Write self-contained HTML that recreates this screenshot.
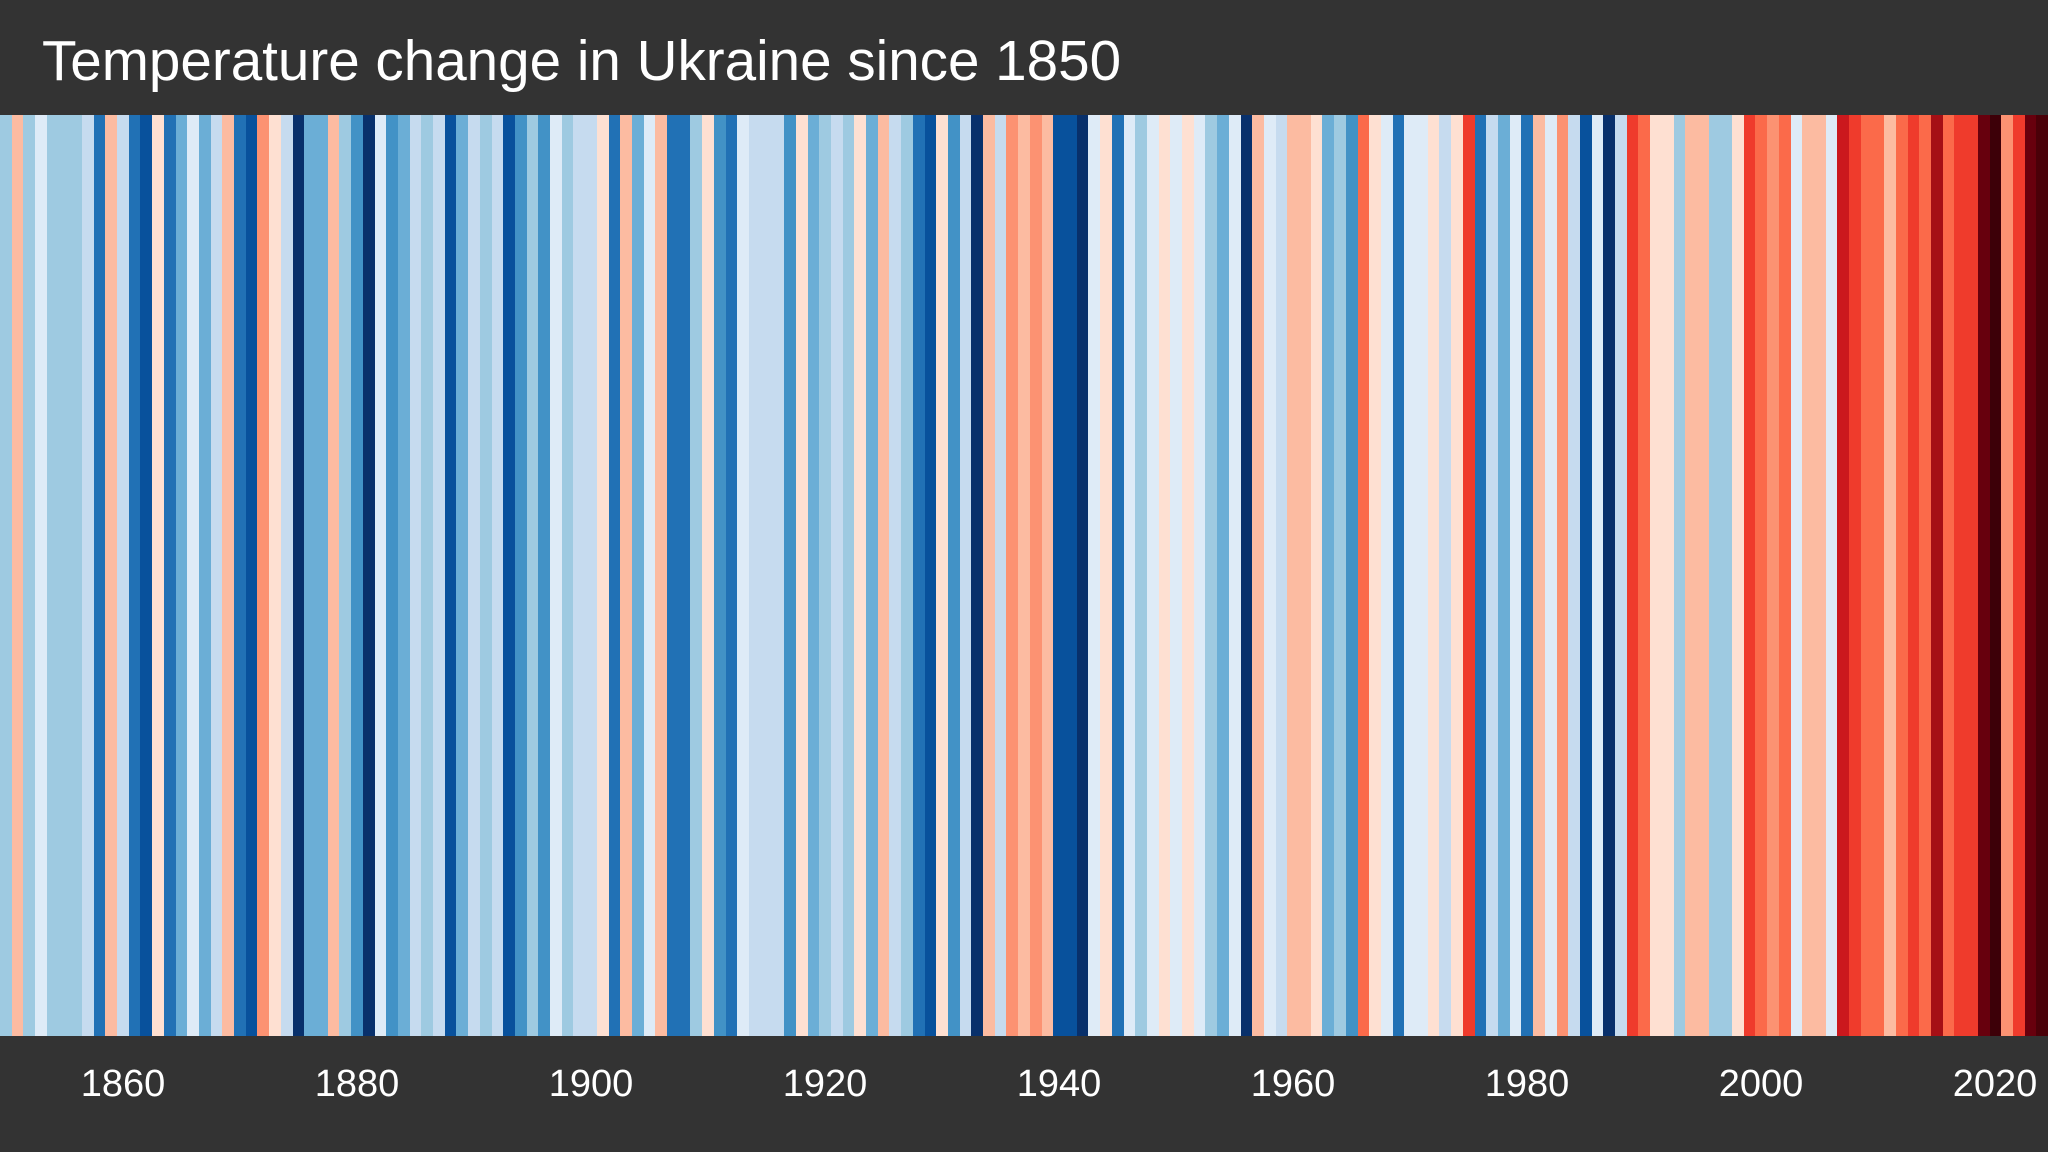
<!DOCTYPE html>
<html><head><meta charset="utf-8"><style>
html,body{margin:0;padding:0;background:#333;}
body{width:2048px;height:1152px;position:relative;overflow:hidden;font-family:"Liberation Sans",Arial,sans-serif;color:#fff;}
#t{position:absolute;left:42px;top:28px;font-size:56.6px;line-height:66px;white-space:nowrap;}
#s{position:absolute;left:0;top:115px;width:2048px;height:921px;display:flex;}
#s i{flex:1 1 0;height:100%;}
.l{position:absolute;top:1063px;font-size:38px;line-height:42px;width:140px;margin-left:-70px;text-align:center;}
</style></head><body>
<div id="t">Temperature change in Ukraine since 1850</div>
<div id="s"></div>
<script>
var c="9ecae1 fcbba1 9ecae1 deebf7 9ecae1 9ecae1 9ecae1 c6dbef 2171b5 fcbba1 c6dbef 2171b5 08519c fee0d2 2171b5 6baed6 deebf7 6baed6 c6dbef fcbba1 2171b5 08519c fc9272 fee0d2 c6dbef 08306b 6baed6 6baed6 fcbba1 9ecae1 4292c6 08306b deebf7 4292c6 6baed6 c6dbef 9ecae1 c6dbef 08519c 6baed6 c6dbef 9ecae1 c6dbef 08519c 4292c6 9ecae1 4292c6 deebf7 9ecae1 c6dbef c6dbef fee0d2 2171b5 fcbba1 6baed6 deebf7 fcbba1 2171b5 2171b5 9ecae1 fee0d2 4292c6 2171b5 deebf7 c6dbef c6dbef c6dbef 4292c6 fee0d2 6baed6 9ecae1 c6dbef 9ecae1 fee0d2 6baed6 fcbba1 c6dbef 9ecae1 2171b5 08519c fee0d2 4292c6 c6dbef 08306b fcbba1 c6dbef fc9272 fcbba1 fc9272 fcbba1 08519c 08519c 08306b deebf7 fee0d2 2171b5 deebf7 9ecae1 deebf7 fee0d2 deebf7 fee0d2 deebf7 9ecae1 6baed6 deebf7 08306b fcbba1 deebf7 c6dbef fcbba1 fcbba1 fee0d2 6baed6 9ecae1 4292c6 fb6a4a fee0d2 deebf7 2171b5 deebf7 deebf7 fee0d2 c6dbef fee0d2 ef3b2c 2171b5 c6dbef 6baed6 deebf7 2171b5 fcbba1 deebf7 fc9272 c6dbef 08519c deebf7 08306b c6dbef ef3b2c fb6a4a fee0d2 fee0d2 9ecae1 fcbba1 fcbba1 9ecae1 9ecae1 fee0d2 ef3b2c fb6a4a fc9272 fb6a4a deebf7 fcbba1 fcbba1 deebf7 cb181d ef3b2c fb6a4a fb6a4a fcbba1 fb6a4a ef3b2c fb6a4a a50f15 fb6a4a ef3b2c ef3b2c 67000d 3d0008 fc9272 ef3b2c 67000d 4a0008".split(" ");
var h="";for(var i=0;i<c.length;i++)h+='<i style="background:#'+c[i]+'"></i>';
document.getElementById("s").innerHTML=h;
</script>
<div class="l" style="left:123px">1860</div>
<div class="l" style="left:357px">1880</div>
<div class="l" style="left:591px">1900</div>
<div class="l" style="left:825px">1920</div>
<div class="l" style="left:1059px">1940</div>
<div class="l" style="left:1293px">1960</div>
<div class="l" style="left:1527px">1980</div>
<div class="l" style="left:1761px">2000</div>
<div class="l" style="left:1995px">2020</div>
</body></html>
